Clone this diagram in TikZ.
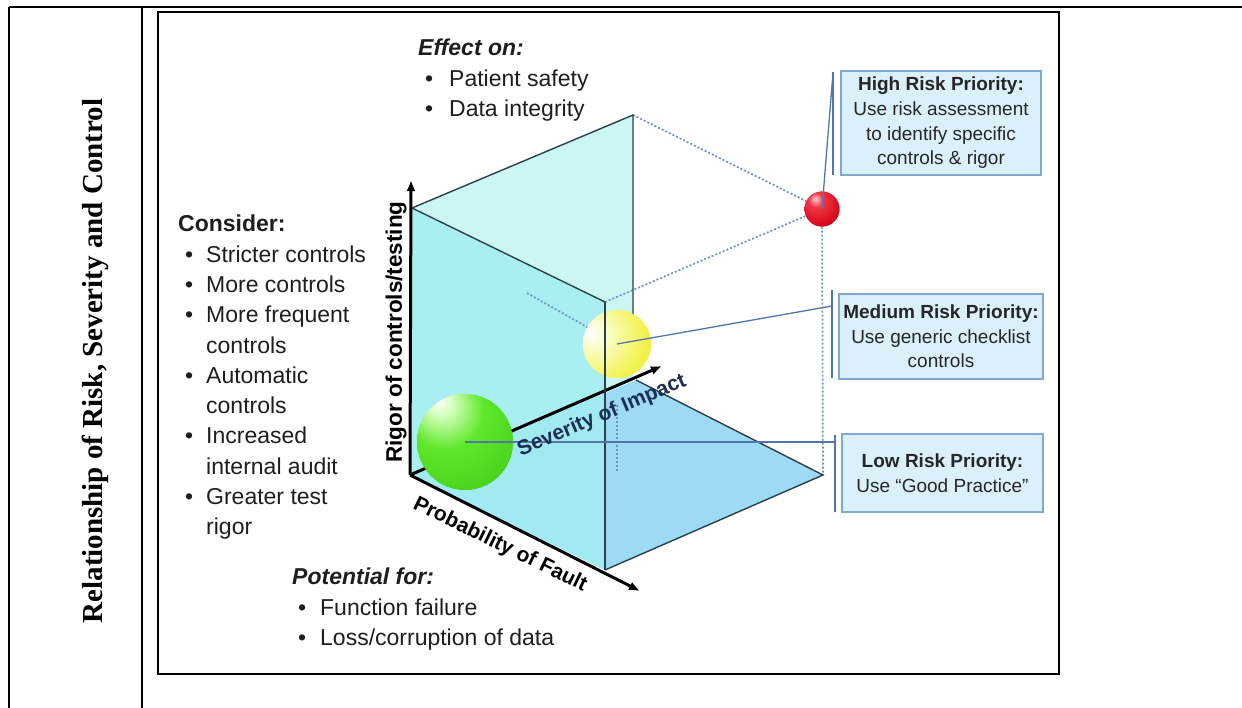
\documentclass[tikz,border=0pt]{standalone}
\usepackage{fontspec}
\setmainfont{Liberation Sans}
\newfontfamily\titlefont{Liberation Serif}
\usetikzlibrary{arrows.meta}
\definecolor{backc}{HTML}{CBF6F3}
\definecolor{leftc}{HTML}{A4EDF1}
\definecolor{floorc}{HTML}{9DDAF5}
\definecolor{edgec}{HTML}{2B3F4A}
\definecolor{boxf}{HTML}{DAF1FB}
\definecolor{boxb}{HTML}{7FA9D3}
\definecolor{linkc}{HTML}{5077AA}
\definecolor{dotc}{HTML}{6F92C8}
\definecolor{sevc}{HTML}{1C2F55}
\definecolor{txtc}{HTML}{1E1E1E}
\definecolor{gHi}{HTML}{D8FFC0}
\definecolor{gMid}{HTML}{5EE82A}
\definecolor{gEdge}{HTML}{3CC414}
\definecolor{yHi}{HTML}{FBFDC8}
\definecolor{yMid}{HTML}{F2F24E}
\definecolor{yEdge}{HTML}{E2E426}
\definecolor{rHi}{HTML}{FFD0D8}
\definecolor{rMid}{HTML}{F03848}
\definecolor{rEdge}{HTML}{D0000E}
\pgfdeclareradialshading{sphgreen}{\pgfpoint{-14bp}{22bp}}{color(0bp)=(white); color(6bp)=(gHi); color(20bp)=(gMid); color(50bp)=(gEdge); color(75bp)=(gEdge)}
\pgfdeclareradialshading{sphyellow}{\pgfpoint{-20bp}{8bp}}{color(0bp)=(white); color(10bp)=(yHi); color(32bp)=(yMid); color(55bp)=(yEdge); color(75bp)=(yEdge)}
\pgfdeclareradialshading{sphred}{\pgfpoint{-10bp}{15bp}}{color(0bp)=(rHi); color(10bp)=(rMid); color(35bp)=(rEdge); color(70bp)=(rEdge)}
\begin{document}
\begin{tikzpicture}[x=1pt,y=-1pt,
  tline/.style={line width=1.2pt,black},
  frame/.style={line width=2.2pt,black},
  edge/.style={line width=1.4pt,draw=edgec},
  axis/.style={line width=3pt,black,-{Latex[length=11pt,width=9pt]}},
  dots/.style={draw=dotc,line width=1.7pt,dash pattern=on 2pt off 2pt},
  link/.style={draw=linkc,line width=1.3pt},
  riskbox/.style={draw=boxb,fill=boxf,line width=1.2pt,inner sep=0pt,align=center,text=black!85,font=\fontsize{19}{24.7}\selectfont},
  orb/.style={circle,inner sep=0pt,minimum size=#1,shade},
  body/.style={inner sep=0pt,anchor=north west,align=left,text=txtc,font=\fontsize{23}{30.3}\selectfont},
  axlabel/.style={inner sep=0pt,font=\fontsize{21}{24}\selectfont\bfseries},
]
\useasboundingbox (0,0) rectangle (1242,708);
\fill[white] (0,0) rectangle (1242,708);
% table lines
\draw[tline] (9,7) -- (1242,7);
\draw[tline] (9,7) -- (9,708);
\draw[tline] (142,7) -- (142,708);
\node[rotate=90,inner sep=0pt,font=\titlefont\fontsize{29}{32}\selectfont\bfseries] (title) at (95,361) {Relationship of Risk, Severity and Control};
% frame
\draw[frame] (158,12) rectangle (1059,674);
% cube coordinates
\coordinate (O) at (410,475);
\coordinate (lt) at (412,208);
\coordinate (bt) at (633,115);
\coordinate (bb) at (636,380);
\coordinate (ft) at (605,302);
\coordinate (fb) at (605,570);
\coordinate (fr) at (823,475);
\coordinate (rtip) at (411,180);
\coordinate (ptip) at (640,591);
\coordinate (stip) at (662,366);
% panels
\fill[floorc] (O) -- (bb) -- (fr) -- (fb) -- cycle;
\fill[backc] (lt) -- (bt) -- (633,380) -- (O) -- cycle;
\fill[leftc,opacity=0.85] (lt) -- (ft) -- (fb) -- (O) -- cycle;
% helper points
\coordinate (d1) at (527,293);
\coordinate (yb) at (617,472);
\coordinate (ys) at (617,405);
% sphere nodes (used as anchors for the dotted edges)
\node[orb=96pt,shading=sphgreen] (green) at (465,442) {};
\node[orb=68pt,shading=sphyellow] (yellow) at (617,344) {};
\node[orb=35pt,shading=sphred] (red) at (822,209) {};
\draw[dots] (bt) -- (red);
\draw[dots] (ft) -- (red);
\draw[dots] (d1) -- (yellow);
\draw[dots] (red) -- (fr);
\draw[dots] (ys) -- (yb);
% panel edges
\draw[edge] (lt) -- (bt) -- (633,345);
\draw[edge] (lt) -- (ft);
\draw[edge] (bb) -- (fr) -- (fb);
% axes
\draw[axis] (O) -- (rtip);
\draw[axis] (O) -- (ptip);
\draw[axis] (O) -- (stip);
% spheres on top of axes
\node[orb=96pt,shading=sphgreen] (green2) at (green) {};
\node[orb=68pt,shading=sphyellow] (yellow2) at (yellow) {};
\node[orb=35pt,shading=sphred] (red2) at (red) {};
\draw[edge,line width=1.1pt] (ft) -- (fb);
% boxes
\node[riskbox,minimum width=200pt,minimum height=104pt] (high) at (941,123) {\textbf{High Risk Priority:}\\Use risk assessment\\to identify specific\\controls \& rigor};
\node[riskbox,minimum width=204pt,minimum height=85pt] (med) at (941,336.5) {\textbf{Medium Risk Priority:}\\Use generic checklist\\controls};
\node[riskbox,minimum width=201pt,minimum height=78pt] (low) at (942.5,473) {\textbf{Low Risk Priority:}\\Use “Good Practice”};
% brackets
\coordinate (hb1) at (833,72); \coordinate (hb2) at (833,175);
\coordinate (mb1) at (832,290); \coordinate (mb2) at (832,378);
\coordinate (lb1) at (835,435); \coordinate (lb2) at (835,512);
\draw[link] (hb1) -- (hb2);
\draw[link] (mb1) -- (mb2);
\draw[link] (lb1) -- (lb2);
\coordinate (hc) at (833,73);
\coordinate (mc) at (832,306);
\coordinate (lc) at (835,445);
\draw[link] (red2.center) -- (hc);
\draw[link] (yellow2.center) -- (mc);
\draw[link] (green2.center) -- (green2.center -| lc);
% axis labels
\node[axlabel,rotate=90,font=\fontsize{22.5}{24}\selectfont\bfseries] (rig) at (396,332) {Rigor of controls/testing};
\node[axlabel,rotate=23,text=sevc] (sev) at (602,416) {Severity of Impact};
\node[axlabel,rotate=-26] (prob) at (500,545) {Probability of Fault};
% text blocks
\node[body] (effect) at (418,39) {\textbf{\textit{Effect on:}}\\\hspace*{7pt}\makebox[24pt][l]{•}Patient safety\\\hspace*{7pt}\makebox[24pt][l]{•}Data integrity};
\node[body] (consider) at (178,215) {\textbf{Consider:}\\
\hspace*{7pt}\makebox[21pt][l]{•}Stricter controls\\
\hspace*{7pt}\makebox[21pt][l]{•}More controls\\
\hspace*{7pt}\makebox[21pt][l]{•}More frequent\\
\hspace*{28pt}controls\\
\hspace*{7pt}\makebox[21pt][l]{•}Automatic\\
\hspace*{28pt}controls\\
\hspace*{7pt}\makebox[21pt][l]{•}Increased\\
\hspace*{28pt}internal audit\\
\hspace*{7pt}\makebox[21pt][l]{•}Greater test\\
\hspace*{28pt}rigor};
\node[body] (potential) at (292,568) {\textbf{\textit{Potential for:}}\\\hspace*{6pt}\makebox[22pt][l]{•}Function failure\\\hspace*{6pt}\makebox[22pt][l]{•}Loss/corruption of data};
\end{tikzpicture}
\end{document}
